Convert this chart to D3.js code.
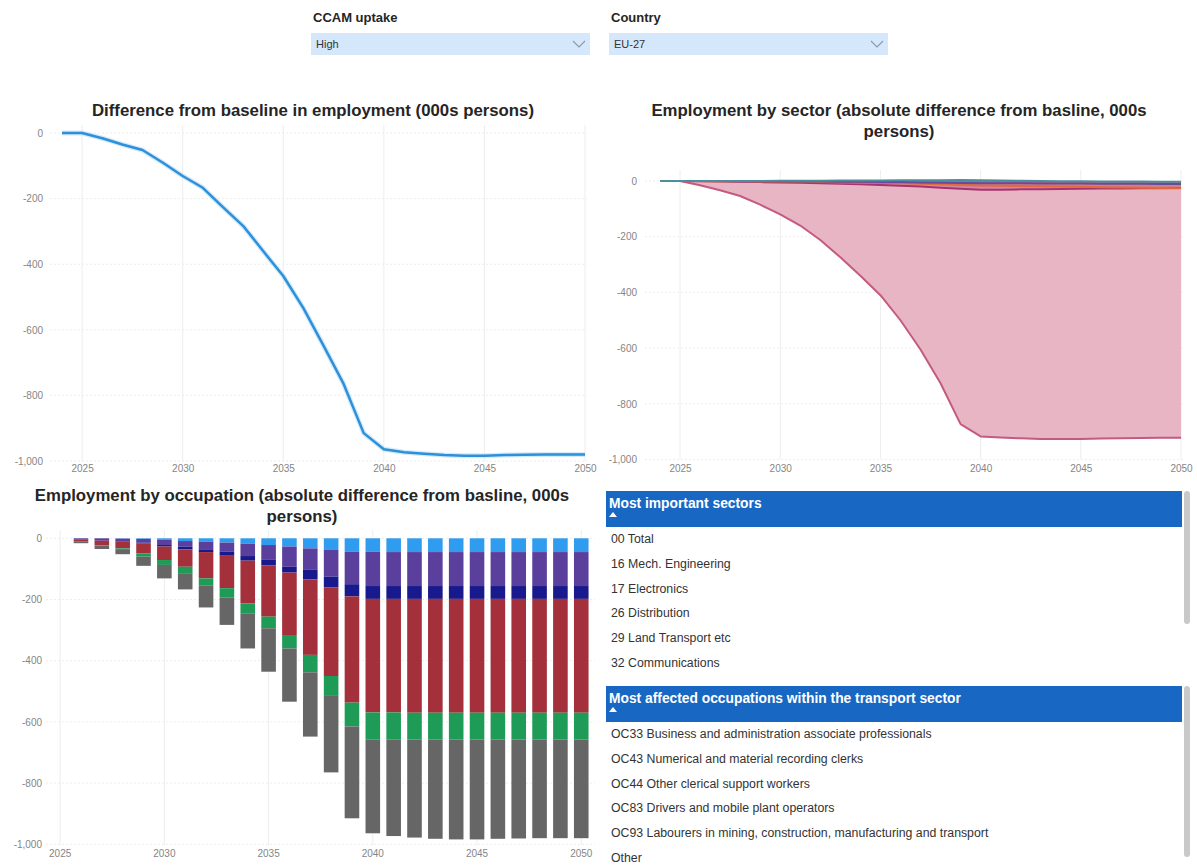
<!DOCTYPE html>
<html>
<head>
<meta charset="utf-8">
<script src="https://cdn.jsdelivr.net/npm/d3@7"></script>
<style>
  body { margin: 0; background: #ffffff; }
  svg { display: block; font-family: "Liberation Sans", Arial, sans-serif; }
</style>
</head>
<body>
<svg id="dash" width="1197" height="866"></svg>
<script>
// ---------- data ----------
const lineYears = d3.range(2024, 2051);
const totalDiff = [0, 0, -16, -35, -52, -90, -131, -167, -226, -283, -360, -436, -534, -648, -765,
  -915, -964, -973, -978, -982, -984, -984, -982, -981, -980, -980, -980];

const sectorNames = ["29 Land Transport etc", "26 Distribution", "16 Mech. Engineering", "17 Electronics", "32 Communications"];
const landTransport = [0, 0, -15, -33, -54, -85, -120, -160, -212, -274, -340, -410, -500, -605, -726,
  -873, -917, -921, -924, -926, -926, -926, -925, -924, -923, -922, -922];
const distribution = [0, 0, -1, -2, -3, -4, -5, -6, -8, -10, -12, -14, -17, -20, -24,
  -28, -31, -31, -30, -30, -29, -28, -27, -27, -26, -26, -25];
const mechEngineering = [0, 0, 0, -1, -1, -2, -2, -3, -4, -5, -6, -7, -8, -10, -12,
  -14, -16, -17, -18, -19, -20, -21, -22, -23, -24, -25, -26];
const electronics = [0, 0, 0, 0, -1, -1, -1, -2, -2, -3, -3, -4, -4, -5, -6,
  -7, -8, -8, -8, -9, -9, -9, -10, -10, -10, -11, -11];
const communications = [0, 0, 0, 0, 0, 0, 1, 1, 1, 2, 2, 2, 3, 3, 3,
  4, 3, 2, 1, 0, -1, -1, -2, -2, -2, -3, -3];

const occYears = d3.range(2025, 2051);
const occKeys = ["OC33", "OC43", "OC44", "OC83", "OC93", "Other"];
const oc33 = [0, 0, 0, -1, -2, -5, -9, -11, -14, -18, -22, -27, -33, -38, -44, -44,
  -45, -45, -45, -45, -45, -45, -45, -45, -45, -45];
const oc43 = [0, -3, -8, -10, -12, -17, -18, -25, -30, -40, -47, -66, -70, -87, -106, -112,
  -111, -111, -111, -111, -111, -111, -111, -111, -111, -111];
const oc44 = [0, 0, 0, -1, -2, -5, -9, -9, -13, -15, -20, -19, -31, -36, -40, -42,
  -42, -42, -42, -42, -42, -42, -42, -42, -42, -42];
const oc83 = [0, -8, -14, -21, -33, -44, -57, -86, -106, -140, -167, -204, -247, -289, -347, -371,
  -371, -372, -372, -372, -372, -372, -372, -372, -372, -372];
const oc93 = [0, 0, -2, -5, -11, -16, -21, -24, -30, -32, -38, -44, -57, -65, -78, -88,
  -88, -88, -88, -88, -88, -88, -88, -88, -88, -88];
const otherOcc = [0, -5, -11, -14, -30, -44, -53, -71, -90, -115, -142, -174, -210, -250, -300, -307,
  -316, -320, -324, -326, -326, -324, -323, -322, -322, -322];

const yTickValues = [0, -200, -400, -600, -800, -1000];
const xTickYears = [2025, 2030, 2035, 2040, 2045, 2050];

const sectorList = ["00 Total", "16 Mech. Engineering", "17 Electronics", "26 Distribution", "29 Land Transport etc", "32 Communications"];
const occupationList = [
  "OC33 Business and administration associate professionals",
  "OC43 Numerical and material recording clerks",
  "OC44 Other clerical support workers",
  "OC83 Drivers and mobile plant operators",
  "OC93 Labourers in mining, construction, manufacturing and transport",
  "Other"
];

// ---------- helpers ----------
const svg = d3.select("#dash");
const fmt = d3.formatLocale({ decimal: ".", thousands: ",", grouping: [3], currency: ["", ""], minus: "-" }).format(",");
const axisColor = "#858585";
const gridColor = "#ededed";

function drawGrid(g, x, y, xVals, x0, x1, y0, y1, xIsBand) {
  g.append("g").selectAll("line").data(yTickValues).join("line")
    .attr("x1", x0).attr("x2", x1)
    .attr("y1", d => y(d)).attr("y2", d => y(d))
    .attr("stroke", gridColor).attr("stroke-width", 1).attr("stroke-dasharray", "2,2");
  g.append("g").selectAll("line").data(xVals).join("line")
    .attr("x1", d => xIsBand ? x(d) + x.bandwidth() / 2 : x(d))
    .attr("x2", d => xIsBand ? x(d) + x.bandwidth() / 2 : x(d))
    .attr("y1", y0).attr("y2", y1)
    .attr("stroke", gridColor).attr("stroke-width", 1);
}

function drawAxes(g, x, y, yAxisX, xAxisY) {
  const ya = g.append("g").attr("transform", `translate(${yAxisX},0)`)
    .call(d3.axisLeft(y).tickValues(yTickValues).tickFormat(fmt).tickSize(0).tickPadding(0));
  const xa = g.append("g").attr("transform", `translate(0,${xAxisY})`)
    .call(d3.axisBottom(x).tickValues(xTickYears).tickFormat(d3.format("d")).tickSize(0).tickPadding(0));
  [ya, xa].forEach(a => {
    a.select(".domain").remove();
    a.selectAll("text").attr("fill", axisColor).style("font-size", "10px");
  });
}

function title(lines, cx, y0) {
  const t = svg.append("text").attr("text-anchor", "middle")
    .attr("fill", "#252525").style("font-size", "16.8px").style("font-weight", "bold");
  lines.forEach((s, i) => t.append("tspan").attr("x", cx).attr("y", y0 + i * 21).text(s));
}

// ---------- slicers ----------
function slicer(x, label, value) {
  const g = svg.append("g");
  g.append("text").attr("x", x + 2).attr("y", 22).text(label)
    .attr("fill", "#252525").style("font-size", "13px").style("font-weight", "bold");
  g.append("rect").attr("x", x).attr("y", 33).attr("width", 279).attr("height", 22).attr("fill", "#d4e7fb");
  g.append("text").attr("x", x + 5).attr("y", 48).text(value).attr("fill", "#333").style("font-size", "11px");
  g.append("polyline").attr("points", `${x + 262},41 ${x + 268},47 ${x + 274},41`)
    .attr("fill", "none").attr("stroke", "#8a98a8").attr("stroke-width", 1.1);
}
slicer(311, "CCAM uptake", "High");
slicer(609, "Country", "EU-27");

// ---------- chart 1: total difference line ----------
title(["Difference from baseline in employment (000s persons)"], 313, 116);
{
  const g = svg.append("g");
  const x = d3.scaleLinear().domain([2024, 2050]).range([62, 585]);
  const y = d3.scaleLinear().domain([-1000, 0]).range([461, 133]);
  drawGrid(g, x, y, xTickYears, 50, 587, 125, 461, false);
  drawAxes(g, x, y, 43, 465);
  const pts = lineYears.map((yr, i) => ({ yr, v: totalDiff[i] }));
  const line = d3.line().x(d => x(d.yr)).y(d => y(d.v));
  g.append("path").datum(pts).attr("d", line).attr("fill", "none")
    .attr("stroke", "#a8d6f7").attr("stroke-width", 5).attr("stroke-opacity", 0.5).attr("stroke-linejoin", "round");
  g.append("path").datum(pts).attr("d", line).attr("fill", "none")
    .attr("stroke", "#2d90d8").attr("stroke-width", 2.5).attr("stroke-linejoin", "round");
}

// ---------- chart 2: employment by sector (areas) ----------
title(["Employment by sector (absolute difference from basline, 000s", "persons)"], 899, 116);
{
  const g = svg.append("g");
  const x = d3.scaleLinear().domain([2024, 2050]).range([660, 1181]);
  const y = d3.scaleLinear().domain([-1000, 0]).range([459.5, 181]);
  drawGrid(g, x, y, xTickYears, 645, 1183, 170, 459, false);
  drawAxes(g, x, y, 637, 465);
  const series = [
    { name: sectorNames[0], values: landTransport, fill: "#e8b5c5", fillOp: 1, stroke: "#c45a80" },
    { name: sectorNames[1], values: distribution, fill: "#a0306e", fillOp: 0.35, stroke: "#a8336f" },
    { name: sectorNames[2], values: mechEngineering, fill: "#e66c37", fillOp: 0.35, stroke: "#e06a3e" },
    { name: sectorNames[3], values: electronics, fill: "#6b3f9a", fillOp: 0.35, stroke: "#6b4a9c" },
    { name: sectorNames[4], values: communications, fill: "#4a8fa0", fillOp: 0.35, stroke: "#4b8f9c" }
  ];
  const area = d3.area().x(d => x(d.yr)).y0(y(0)).y1(d => y(d.v));
  const line = d3.line().x(d => x(d.yr)).y(d => y(d.v));
  series.forEach(s => {
    const pts = lineYears.map((yr, i) => ({ yr, v: s.values[i] }));
    g.append("path").datum(pts).attr("d", area).attr("fill", s.fill).attr("fill-opacity", s.fillOp);
  });
  series.forEach(s => {
    const pts = lineYears.map((yr, i) => ({ yr, v: s.values[i] }));
    g.append("path").datum(pts).attr("d", line).attr("fill", "none")
      .attr("stroke", s.stroke).attr("stroke-width", 2).attr("stroke-linejoin", "round");
  });
}

// ---------- chart 3: employment by occupation (stacked bars) ----------
title(["Employment by occupation (absolute difference from basline, 000s", "persons)"], 302, 501);
{
  const g = svg.append("g");
  const x = d3.scaleBand().domain(occYears).range([46.6, 594.8]).padding(0.3);
  const y = d3.scaleLinear().domain([-1000, 0]).range([844.3, 538.3]);
  drawGrid(g, x, y, xTickYears, 46, 595, 530, 845, true);
  drawAxes(g, x, y, 42, 850);
  const occValues = { OC33: oc33, OC43: oc43, OC44: oc44, OC83: oc83, OC93: oc93, Other: otherOcc };
  const colors = d3.scaleOrdinal().domain(occKeys)
    .range(["#2f9cf0", "#5b3f9c", "#17198c", "#a3303a", "#1e9b57", "#666666"]);
  const rows = occYears.map((yr, i) => {
    const r = { yr };
    occKeys.forEach(k => r[k] = occValues[k][i]);
    return r;
  });
  const stacked = d3.stack().keys(occKeys).offset(d3.stackOffsetDiverging)(rows);
  g.append("g").selectAll("g").data(stacked).join("g").attr("fill", d => colors(d.key))
    .selectAll("rect").data(d => d).join("rect")
    .attr("x", d => x(d.data.yr))
    .attr("width", x.bandwidth())
    .attr("y", d => y(Math.max(d[0], d[1])))
    .attr("height", d => Math.abs(y(d[0]) - y(d[1])));
}

// ---------- list panels ----------
function listPanel(top, heading, items, scrollH) {
  const g = svg.append("g");
  g.append("rect").attr("x", 606).attr("y", top).attr("width", 576).attr("height", 36).attr("fill", "#1767c3");
  g.append("text").attr("x", 609).attr("y", top + 17).text(heading)
    .attr("fill", "#ffffff").style("font-size", "13.8px").style("font-weight", "bold");
  g.append("path").attr("d", `M609,${top + 26} L613,${top + 21} L617,${top + 26} Z`).attr("fill", "#ffffff");
  g.append("rect").attr("x", 1184).attr("y", top).attr("width", 6).attr("height", scrollH)
    .attr("rx", 3).attr("fill", "#c9c9c9");
  g.selectAll("text.item").data(items).join("text").attr("class", "item")
    .attr("x", 611).attr("y", (d, i) => top + 52 + i * 24.8)
    .attr("fill", "#333333").style("font-size", "12.3px").text(d => d);
}
listPanel(491, "Most important sectors", sectorList, 133);
listPanel(686, "Most affected occupations within the transport sector", occupationList, 171);
</script>
</body>
</html>
